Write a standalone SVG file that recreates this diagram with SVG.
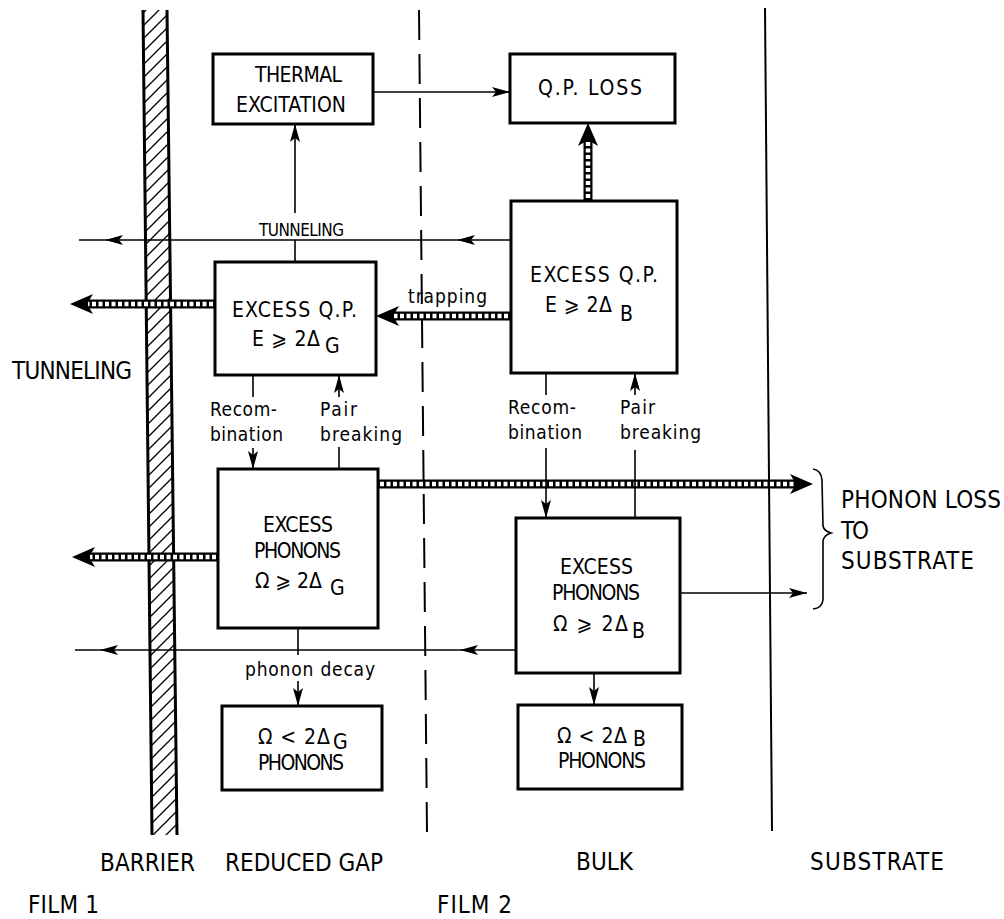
<svg xmlns="http://www.w3.org/2000/svg" xmlns:xlink="http://www.w3.org/1999/xlink" width="1004" height="919" viewBox="0 0 1004 919">
<style>
.box{fill:#fff;stroke:#000;stroke-width:3}
.ln{fill:none;stroke:#000;stroke-width:1.6}
.tk{fill:none;stroke:#000;stroke-width:9}
.tw{fill:none;stroke:#fff;stroke-width:4.5;stroke-dasharray:4 2.5}
text{font-family:"DejaVu Sans Condensed","DejaVu Sans","Liberation Sans",sans-serif;font-stretch:condensed;fill:#000}
.m{font-size:21px}
.s{font-size:19px}
.xs{font-size:17px}
.l{font-size:24px}
</style>
<defs>
<pattern id="hatch" patternUnits="userSpaceOnUse" width="13" height="13">
<path d="M0,13 L13,0 M-3,3 L3,-3 M10,16 L16,10" stroke="#000" stroke-width="1.3"/>
</pattern>
<path id="th" d="M0,0 L-18,-5 L-14,0 L-18,5 Z" fill="#000"/>
<path id="bh" d="M0,0 L-23,-10 L-17,0 L-23,10 Z" fill="#000"/>
</defs>
<rect width="1004" height="919" fill="#fff"/>

<g id="regions">
<polygon points="143,10 167,10 177,835 152,835" fill="url(#hatch)"/>
<path d="M143,10 L152,835 M167,10 L177,835" stroke="#000" stroke-width="3" fill="none"/>
<path d="M419,10 L427,833" stroke="#000" stroke-width="2" stroke-dasharray="30 14" fill="none"/>
<path d="M765,8 L772,831" stroke="#000" stroke-width="2" fill="none"/>
</g>

<g id="connectors">
<path class="tk" d="M588,200 V140"/><path class="tw" d="M588,198 V141"/>
<use xlink:href="#bh" transform="translate(588,123) rotate(-90)"/>
<path class="tk" d="M510,316 H393"/><path class="tw" d="M508,316 H394"/>
<use xlink:href="#bh" transform="translate(376,316) rotate(180)"/>
<path class="tk" d="M215,304 H87"/><path class="tw" d="M213,304 H88"/>
<use xlink:href="#bh" transform="translate(70,304) rotate(180)"/>
<path class="tk" d="M218,557 H89"/><path class="tw" d="M216,557 H90"/>
<use xlink:href="#bh" transform="translate(72,557) rotate(180)"/>
<path class="tk" d="M378,484 H796"/><path class="tw" d="M380,484 H795"/>
<use xlink:href="#bh" transform="translate(813,484)"/>
<path class="ln" d="M373,92 H510"/><use xlink:href="#th" transform="translate(510,92)"/>
<path class="ln" d="M295,213 V124"/><use xlink:href="#th" transform="translate(295,124) rotate(-90)"/>
<path class="ln" d="M510,240 H79 M295,240 V262"/>
<use xlink:href="#th" transform="translate(105,240) rotate(180)"/>
<use xlink:href="#th" transform="translate(457,240) rotate(180)"/>
<path class="ln" d="M253,375 V397 M253,448 V469"/><use xlink:href="#th" transform="translate(253,469) rotate(90)"/>
<path class="ln" d="M339,397 V375 M339,447 V469"/><use xlink:href="#th" transform="translate(339,375) rotate(-90)"/>
<path class="ln" d="M546,373 V395 M546,448 V518"/><use xlink:href="#th" transform="translate(546,518) rotate(90)"/>
<path class="ln" d="M635,395 V373 M635,450 V518"/><use xlink:href="#th" transform="translate(635,373) rotate(-90)"/>
<path class="ln" d="M516,650 H75"/>
<use xlink:href="#th" transform="translate(100,650) rotate(180)"/>
<use xlink:href="#th" transform="translate(460,650) rotate(180)"/>
<path class="ln" d="M298,628 V655 M298,681 V706"/><use xlink:href="#th" transform="translate(298,706) rotate(90)"/>
<path class="ln" d="M594,673 V705"/><use xlink:href="#th" transform="translate(594,705) rotate(90)"/>
<path class="ln" d="M680,593 H807"/><use xlink:href="#th" transform="translate(807,593)"/>
<path class="ln" d="M813,469 Q821,470 822,480 L823,526 Q824,531 831,533 Q824,535 823,541 L823,600 Q822,608 813,609"/>
</g>

<g id="thermal">
<rect class="box" x="213" y="54" width="160" height="70"/>
<text class="m" x="255" y="82" textLength="87">THERMAL</text>
<text class="m" x="236" y="112" textLength="110">EXCITATION</text>
</g>
<g id="qploss">
<rect class="box" x="510" y="54" width="165" height="69"/>
<text class="m" x="538" y="95" textLength="104">Q.P. LOSS</text>
</g>
<g id="qp-bulk">
<rect class="box" x="511" y="201" width="166" height="172"/>
<text class="m" x="530" y="282" textLength="128">EXCESS Q.P.</text>
<text class="m" x="545" y="312" textLength="67">E ⩾ 2Δ</text>
<text class="m" x="620" y="321">B</text>
</g>
<g id="qp-gap">
<rect class="box" x="215" y="262" width="161" height="113"/>
<text class="m" x="232" y="317" textLength="125">EXCESS Q.P.</text>
<text class="m" x="252" y="346" textLength="68">E ⩾ 2Δ</text>
<text class="m" x="325" y="353">G</text>
</g>
<g id="ph-gap">
<rect class="box" x="218" y="469" width="160" height="159"/>
<text class="m" x="263" y="532" textLength="70">EXCESS</text>
<text class="m" x="254" y="558" textLength="87">PHONONS</text>
<text class="m" x="255" y="588" textLength="67">Ω ⩾ 2Δ</text>
<text class="m" x="330" y="595">G</text>
</g>
<g id="ph-bulk">
<rect class="box" x="516" y="518" width="164" height="155"/>
<text class="m" x="560" y="574" textLength="73">EXCESS</text>
<text class="m" x="552" y="600" textLength="88">PHONONS</text>
<text class="m" x="553" y="631" textLength="75">Ω ⩾ 2Δ</text>
<text class="m" x="632" y="638">B</text>
</g>
<g id="low-gap">
<rect class="box" x="222" y="706" width="160" height="84"/>
<text class="m" x="258" y="744" textLength="72">Ω &lt; 2Δ</text>
<text class="m" x="333" y="749">G</text>
<text class="m" x="258" y="770" textLength="86">PHONONS</text>
</g>
<g id="low-bulk">
<rect class="box" x="518" y="705" width="164" height="84"/>
<text class="m" x="557" y="743" textLength="70">Ω &lt; 2Δ</text>
<text class="m" x="633" y="746">B</text>
<text class="m" x="558" y="768" textLength="88">PHONONS</text>
</g>

<g id="labels">
<text class="xs" x="259" y="236" textLength="85">TUNNELING</text>
<text class="s" x="408" y="303" textLength="79">trapping</text>
<text class="l" x="12" y="379" textLength="120">TUNNELING</text>
<text class="s" x="210" y="416" textLength="67">Recom-</text>
<text class="s" x="210" y="441" textLength="73">bination</text>
<text class="s" x="320" y="416" textLength="37">Pair</text>
<text class="s" x="320" y="441" textLength="82">breaking</text>
<text class="s" x="508" y="414" textLength="68">Recom-</text>
<text class="s" x="508" y="439" textLength="74">bination</text>
<text class="s" x="620" y="414" textLength="35">Pair</text>
<text class="s" x="620" y="439" textLength="81">breaking</text>
<text class="s" x="245" y="676" textLength="130">phonon decay</text>
<text class="l" x="841" y="508" textLength="160">PHONON LOSS</text>
<text class="l" x="841" y="539" textLength="28">TO</text>
<text class="l" x="841" y="569" textLength="133">SUBSTRATE</text>
<text class="l" x="100" y="871" textLength="95">BARRIER</text>
<text class="l" x="225" y="871" textLength="158">REDUCED GAP</text>
<text class="l" x="576" y="870" textLength="57">BULK</text>
<text class="l" x="810" y="870" textLength="134">SUBSTRATE</text>
<text class="l" x="28" y="913" textLength="71">FILM 1</text>
<text class="l" x="437" y="913" textLength="75">FILM 2</text>
</g>
</svg>
